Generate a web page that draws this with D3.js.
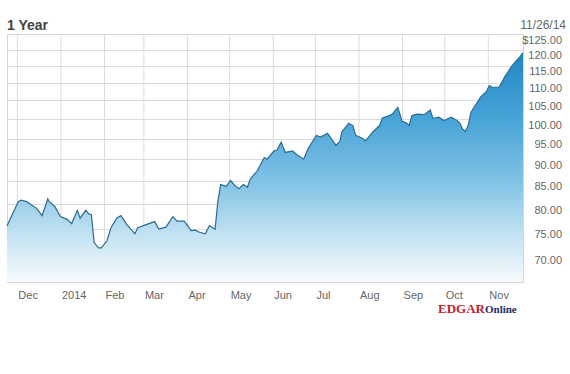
<!DOCTYPE html>
<html>
<head>
<meta charset="utf-8">
<script src="https://cdn.jsdelivr.net/npm/d3@7"></script>
<style>
  body { margin: 0; background: #fff; }
  svg text { font-family: "Liberation Sans", Arial, sans-serif; }
</style>
</head>
<body>
<script>
// closing prices (1 year to 11/26/14)
var dates = ["2013-11-24","2013-11-29","2013-12-02","2013-12-04","2013-12-08","2013-12-11","2013-12-15","2013-12-19","2013-12-23","2013-12-24","2013-12-28",
  "2014-01-01","2014-01-06","2014-01-09","2014-01-13","2014-01-15","2014-01-19","2014-01-21","2014-01-23","2014-01-25","2014-01-28","2014-01-30",
  "2014-02-03","2014-02-06","2014-02-10","2014-02-13","2014-02-17","2014-02-20","2014-02-23","2014-02-25",
  "2014-03-01","2014-03-04","2014-03-09","2014-03-12","2014-03-17","2014-03-22","2014-03-25","2014-03-30",
  "2014-04-04","2014-04-07","2014-04-10","2014-04-14","2014-04-17","2014-04-21","2014-04-23","2014-04-25","2014-04-29",
  "2014-05-02","2014-05-05","2014-05-08","2014-05-11","2014-05-14","2014-05-16","2014-05-21","2014-05-26","2014-05-28",
  "2014-06-02","2014-06-04","2014-06-07","2014-06-10","2014-06-15","2014-06-18","2014-06-23","2014-06-26",
  "2014-07-02","2014-07-05","2014-07-10","2014-07-13","2014-07-16","2014-07-19","2014-07-20","2014-07-25","2014-07-28","2014-07-30",
  "2014-08-04","2014-08-06","2014-08-11","2014-08-16","2014-08-18","2014-08-23","2014-08-25","2014-08-27","2014-08-29",
  "2014-09-01","2014-09-04","2014-09-06","2014-09-08","2014-09-12","2014-09-17","2014-09-21","2014-09-23","2014-09-27",
  "2014-10-01","2014-10-06","2014-10-10","2014-10-12","2014-10-14","2014-10-16","2014-10-18","2014-10-20","2014-10-23","2014-10-27","2014-10-31",
  "2014-11-02","2014-11-04","2014-11-09","2014-11-13","2014-11-18","2014-11-21","2014-11-24","2014-11-26"];

var prices = [75.5,78.6,80.5,80.8,80.5,79.9,79.1,77.6,81.1,80.5,79.5,
  77.4,76.8,76.0,78.7,77.1,78.7,78.0,77.8,72.3,71.3,71.3,
  72.6,75.2,77.1,77.6,75.9,74.9,74.0,75.2,
  75.6,75.9,76.4,74.9,75.3,77.4,76.5,76.5,
  74.6,74.7,74.3,74.0,75.6,74.9,80.6,84.2,83.8,
  85.1,84.0,83.3,84.2,83.6,85.4,87.3,90.4,90.0,
  92.0,92.2,94.1,91.6,92.0,91.1,90.0,92.4,
  95.8,95.4,96.3,94.8,93.3,94.5,96.6,98.9,98.3,95.8,
  95.0,94.4,96.6,98.3,100.3,100.9,101.3,102.2,103.1,
  99.4,99.0,98.3,100.9,101.3,101.2,102.4,100.1,100.5,
  99.6,100.5,99.6,99.0,97.4,96.8,98.3,101.8,103.6,106.0,107.5,
  109.2,108.7,108.7,111.7,114.9,116.4,117.9,119.0];

var monthStarts = ["2013-12-01","2014-01-01","2014-02-01","2014-03-01","2014-04-01","2014-05-01","2014-06-01","2014-07-01","2014-08-01","2014-09-01","2014-10-01","2014-11-01"];
var monthLabels = ["Dec","2014","Feb","Mar","Apr","May","Jun","Jul","Aug","Sep","Oct","Nov"];
var priceTicks = [70,75,80,85,90,95,100,105,110,115,120,125];

var W = 570, H = 374;
var plot = {left: 7, right: 523, top: 34, bottom: 282};
var parse = d3.timeParse("%Y-%m-%d");

var data = dates.map(function(d, i) { return {date: parse(d), price: prices[i]}; });
var months = monthStarts.map(parse);

var x = d3.scaleTime()
    .domain([parse("2013-11-24"), parse("2014-11-26")])
    .range([plot.left, plot.right]);

// price axis is logarithmic
var y = d3.scaleLog()
    .domain([65.2, 125])
    .range([plot.bottom, plot.top]);

var svg = d3.select("body").append("svg")
    .attr("width", W)
    .attr("height", H);

var grad = svg.append("defs").append("linearGradient")
    .attr("id", "fillGrad")
    .attr("gradientUnits", "userSpaceOnUse")
    .attr("x1", 0).attr("x2", 0)
    .attr("y1", 45).attr("y2", plot.bottom);
[[0, "#1e82c2"], [0.3, "#45a3d6"], [0.58, "#82c2e5"], [0.8, "#c2e2f2"], [1, "#f7fbfd"]].forEach(function(s) {
    grad.append("stop").attr("offset", s[0]).attr("stop-color", s[1]);
});

//grid lines
svg.append("g")
    .attr("class", "hgrid")
    .selectAll("line")
    .data(priceTicks)
    .enter().append("line")
    .attr("x1", plot.left).attr("x2", plot.right)
    .attr("y1", function(d) { return Math.round(y(d)) + 0.5; })
    .attr("y2", function(d) { return Math.round(y(d)) + 0.5; })
    .attr("stroke", "#dcdcdc");

var xAxis = svg.append("g")
    .attr("transform", "translate(0," + plot.bottom + ")")
    .call(d3.axisBottom(x)
        .tickValues(months)
        .tickSize(-(plot.bottom - plot.top))
        .tickFormat(function(d, i) { return monthLabels[i]; }));
xAxis.select(".domain").remove();
xAxis.selectAll(".tick line").attr("stroke", "#dcdcdc");
xAxis.selectAll(".tick text")
    .attr("text-anchor", "start")
    .attr("x", 1)
    .attr("y", 9)
    .attr("fill", "#666")
    .style("font-size", "11px");

svg.append("rect")
    .attr("x", plot.left + 0.5).attr("y", plot.top + 0.5)
    .attr("width", plot.right - plot.left).attr("height", plot.bottom - plot.top)
    .attr("fill", "none")
    .attr("stroke", "#d6d6d6");

var area = d3.area()
    .x(function(d) { return x(d.date); })
    .y0(plot.bottom)
    .y1(function(d) { return y(d.price); });

var line = d3.line()
    .x(function(d) { return x(d.date); })
    .y(function(d) { return y(d.price); });

svg.append("path")
    .datum(data)
    .attr("d", area)
    .attr("fill", "url(#fillGrad)");

svg.append("path")
    .datum(data)
    .attr("d", line)
    .attr("fill", "none")
    .attr("stroke", "#2b6d92")
    .attr("stroke-width", 1.2);

var yAxis = svg.append("g")
    .attr("transform", "translate(" + plot.right + ",0)")
    .call(d3.axisRight(y)
        .tickValues(priceTicks)
        .tickSize(0)
        .tickFormat(function(d) { return (d == 125 ? "$" : "") + d3.format(".2f")(d); }));
yAxis.select(".domain").remove();
yAxis.selectAll(".tick text")
    .attr("text-anchor", "end")
    .attr("x", 39)
    .attr("dy", "9px")
    .attr("fill", "#666")
    .style("font-size", "11px");

svg.append("text")
    .attr("x", 7).attr("y", 30)
    .attr("fill", "#444")
    .style("font-size", "14px")
    .style("font-weight", "bold")
    .text("1 Year");

svg.append("text")
    .attr("x", 566).attr("y", 29)
    .attr("text-anchor", "end")
    .attr("fill", "#666")
    .style("font-size", "12px")
    .text("11/26/14");

// EDGAR Online mark
var logo = svg.append("text")
    .attr("x", 438).attr("y", 313)
    .style("font-family", "'Liberation Serif', 'DejaVu Serif', serif")
    .style("font-weight", "bold");
logo.append("tspan").attr("fill", "#c6202e").style("font-size", "13px").text("EDGAR");
logo.append("tspan").attr("fill", "#1d2d6b").style("font-size", "11px").text("Online");
</script>
</body>
</html>
